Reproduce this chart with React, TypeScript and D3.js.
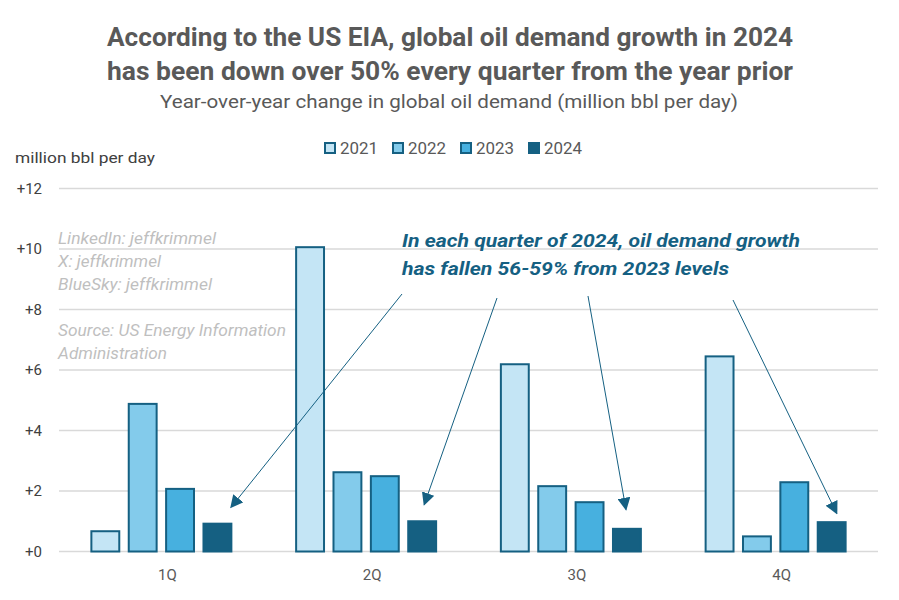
import React, { useRef, useEffect } from "react";
import * as d3 from "d3";

// quarterly year-over-year change in global oil demand, million bbl/day
const quarters = ["1Q", "2Q", "3Q", "4Q"];
const years = ["2021", "2022", "2023", "2024"];
const y2021 = [0.67, 10.06, 6.19, 6.45];
const y2022 = [4.88, 2.62, 2.16, 0.5];
const y2023 = [2.07, 2.49, 1.63, 2.29];
const y2024 = [0.92, 1.0, 0.75, 0.97];
const yTicks = [0, 2, 4, 6, 8, 10, 12];

const colors = ["#C4E5F5", "#83CBEB", "#47B0DF", "#156082"];

const App = () => {
  const svgRef = useRef<SVGSVGElement>(null);

  useEffect(() => {
    const svg = d3.select(svgRef.current);
    svg.selectAll("*").remove();
    const width = 899;
    const height = 600;
    const margin = { top: 188, right: 21, bottom: 48, left: 59 };
    const font = "Roboto, 'Noto Sans', sans-serif";
    const gray = "#595959";

    svg.attr("width", width).attr("height", height).style("font-family", font);
    svg.append("rect").attr("width", width).attr("height", height).attr("fill", "#fff");

    const x = d3
      .scaleBand()
      .domain(quarters)
      .range([margin.left, width - margin.right]);

    const y = d3
      .scaleLinear()
      .domain([0, 12])
      .range([height - margin.bottom - 0.5, margin.top + 0.5]);

    const inner = d3.scaleBand().domain(years).range([0, 142]).paddingInner(0.2);
    const series = [y2021, y2022, y2023, y2024];
    const groupX = (q: string) => x(q)! + (x.bandwidth() - 142) / 2;

    // titles
    svg
      .append("text")
      .attr("x", 450)
      .attr("y", 46)
      .attr("text-anchor", "middle")
      .attr("font-size", 25)
      .attr("font-weight", "bold")
      .attr("fill", gray)
      .attr("textLength", 686)
      .attr("lengthAdjust", "spacingAndGlyphs")
      .text("According to the US EIA, global oil demand  growth in 2024");
    svg
      .append("text")
      .attr("x", 450)
      .attr("y", 80)
      .attr("text-anchor", "middle")
      .attr("font-size", 25)
      .attr("font-weight", "bold")
      .attr("fill", gray)
      .attr("textLength", 686)
      .attr("lengthAdjust", "spacingAndGlyphs")
      .text("has been down over 50% every quarter from the year prior");
    svg
      .append("text")
      .attr("x", 449)
      .attr("y", 108)
      .attr("text-anchor", "middle")
      .attr("font-size", 19)
      .attr("fill", gray)
      .attr("textLength", 578)
      .attr("lengthAdjust", "spacingAndGlyphs")
      .text("Year-over-year change in global oil demand (million bbl per day)");

    // legend
    const legend = svg.append("g").attr("transform", "translate(324,148)");
    const legendX = [0, 68, 136, 204];
    years.forEach((yr, i) => {
      const g = legend.append("g").attr("transform", `translate(${legendX[i]},0)`);
      g.append("rect")
        .attr("x", 1)
        .attr("y", -5)
        .attr("width", 10)
        .attr("height", 10)
        .attr("fill", colors[i])
        .attr("stroke", "#156082")
        .attr("stroke-width", 2);
      g.append("text")
        .attr("x", 16)
        .attr("y", 6)
        .attr("font-size", 16)
        .attr("fill", gray)
        .attr("textLength", 38)
        .attr("lengthAdjust", "spacingAndGlyphs")
        .text(yr);
    });

    // unit label
    svg
      .append("text")
      .attr("x", 15)
      .attr("y", 163)
      .attr("font-size", 15)
      .attr("fill", "#404040")
      .attr("textLength", 140)
      .attr("lengthAdjust", "spacingAndGlyphs")
      .text("million bbl per day");

    // gridlines
    svg
      .append("g")
      .selectAll("line")
      .data(yTicks)
      .enter()
      .append("line")
      .attr("x1", margin.left)
      .attr("x2", width - margin.right)
      .attr("y1", (d) => y(d))
      .attr("y2", (d) => y(d))
      .attr("stroke", "#D9D9D9")
      .attr("stroke-width", 1.5);

    svg
      .append("g")
      .attr("transform", `translate(${margin.left},0)`)
      .call(d3.axisLeft(y).tickValues(yTicks).tickSize(0).tickPadding(17).tickFormat((d) => `+${d}`))
      .call((g) => g.select(".domain").remove())
      .selectAll("text")
      .attr("font-size", 15)
      .attr("font-family", font)
      .attr("fill", "#404040");

    // watermark / source text
    const notes: [string, number, number][] = [
      ["LinkedIn: jeffkrimmel", 244, 158],
      ["X: jeffkrimmel", 267, 103],
      ["BlueSky: jeffkrimmel", 290, 154],
      ["Source: US Energy Information", 336, 228],
      ["Administration", 359, 109],
    ];
    svg
      .append("g")
      .selectAll("text")
      .data(notes)
      .enter()
      .append("text")
      .attr("x", 58)
      .attr("y", (d) => d[1])
      .attr("font-size", 16)
      .attr("font-style", "italic")
      .attr("fill", "#BFBFBF")
      .attr("textLength", (d) => d[2])
      .attr("lengthAdjust", "spacingAndGlyphs")
      .text((d) => d[0]);

    // bars
    const groups = svg
      .append("g")
      .selectAll("g")
      .data(quarters)
      .enter()
      .append("g")
      .attr("transform", (q) => `translate(${groupX(q)},0)`);

    groups
      .selectAll("rect")
      .data((q, qi) => years.map((yr, si) => ({ yr, si, v: series[si][qi] })))
      .enter()
      .append("rect")
      .attr("x", (d) => inner(d.yr)! + 1)
      .attr("y", (d) => y(d.v))
      .attr("width", inner.bandwidth() - 2)
      .attr("height", (d) => y(0) - y(d.v))
      .attr("fill", (d) => colors[d.si])
      .attr("stroke", "#156082")
      .attr("stroke-width", 2);

    // x labels
    svg
      .append("g")
      .attr("transform", `translate(0,${y(0)})`)
      .call(d3.axisBottom(x).tickSize(0).tickPadding(18))
      .call((g) => g.select(".domain").remove())
      .selectAll("text")
      .attr("dx", 6)
      .attr("font-size", 15)
      .attr("font-family", font)
      .attr("fill", gray);

    // annotation
    const accent = "#156082";
    svg
      .append("defs")
      .append("marker")
      .attr("id", "arrowhead")
      .attr("viewBox", "0 0 10 10")
      .attr("refX", 9)
      .attr("refY", 5)
      .attr("markerWidth", 13)
      .attr("markerHeight", 13)
      .attr("markerUnits", "userSpaceOnUse")
      .attr("orient", "auto")
      .append("path")
      .attr("d", "M0,0 L10,5 L0,10 z")
      .attr("fill", accent);

    const note = svg
      .append("text")
      .attr("font-size", 18)
      .attr("font-weight", "bold")
      .attr("font-style", "italic")
      .attr("fill", accent);
    note.append("tspan").attr("x", 402).attr("y", 247).attr("textLength", 398).attr("lengthAdjust", "spacingAndGlyphs").text("In each quarter of 2024, oil demand growth");
    note.append("tspan").attr("x", 402).attr("y", 275).attr("textLength", 327).attr("lengthAdjust", "spacingAndGlyphs").text("has fallen 56-59% from 2023 levels");

    // arrows from the note down to each 2024 bar
    const arrowStarts = [
      [402, 294],
      [497, 298],
      [588, 296],
      [733, 300],
    ];
    const arrowTipDx = [28.5, 17, 14, 20];
    const arrowTipValue = [1.46, 1.55, 1.39, 1.26];
    svg
      .append("g")
      .selectAll("line")
      .data(quarters)
      .enter()
      .append("line")
      .attr("x1", (q, i) => arrowStarts[i][0])
      .attr("y1", (q, i) => arrowStarts[i][1])
      .attr("x2", (q, i) => groupX(q) + inner("2024")! + arrowTipDx[i])
      .attr("y2", (q, i) => y(arrowTipValue[i]))
      .attr("stroke", accent)
      .attr("stroke-width", 1)
      .attr("marker-end", "url(#arrowhead)");
  }, []);

  return (
    <div style={{ position: "absolute", left: 0, top: 0 }}>
      <svg ref={svgRef} style={{ display: "block" }}></svg>
    </div>
  );
};

export default App;
